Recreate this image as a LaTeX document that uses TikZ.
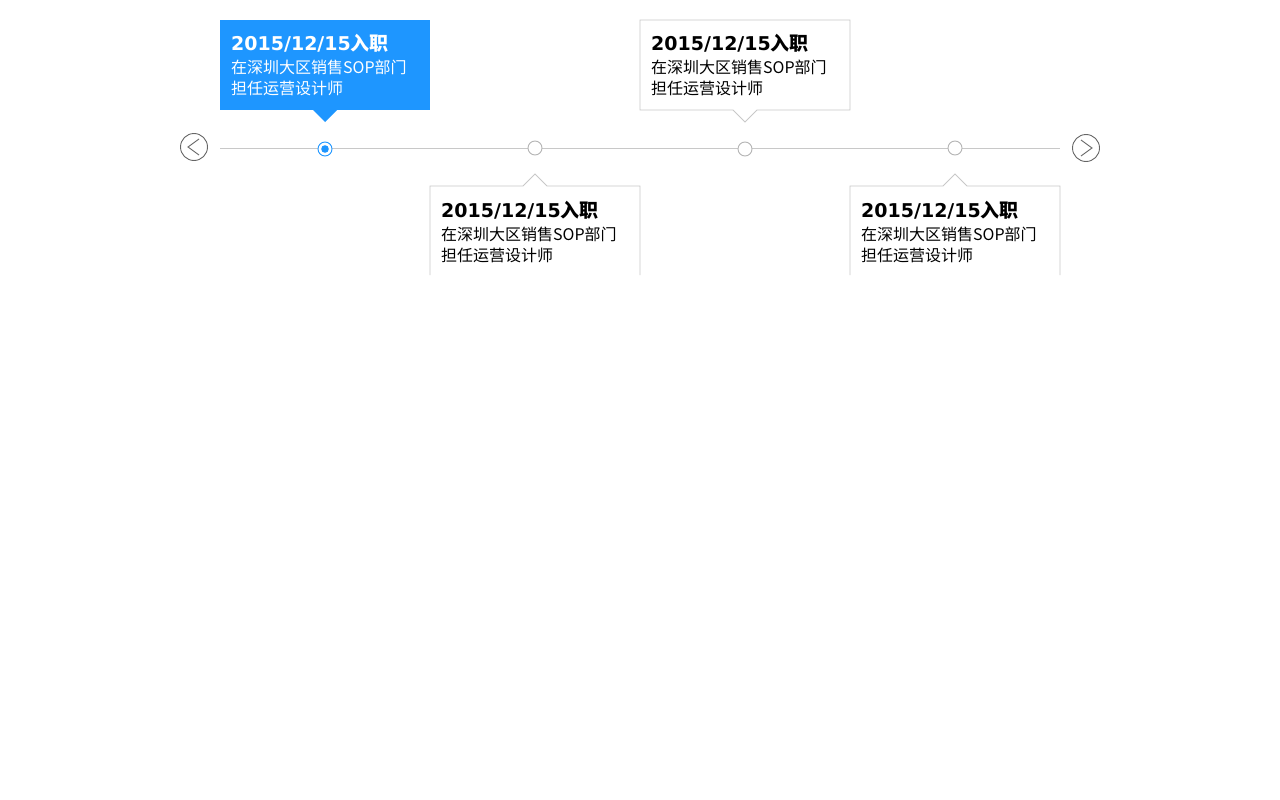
\documentclass[tikz,border=0pt]{standalone}
\usepackage{fontspec}
\setmainfont{DejaVu Sans}
\newfontfamily\cjk{Noto Sans CJK SC}
\begin{document}
\begin{tikzpicture}[x=1pt,y=-1pt]
\definecolor{tlblue}{HTML}{1E96FF}
\definecolor{tlgray}{HTML}{C8C8C8}
\definecolor{dotgray}{HTML}{B4B4B4}
\definecolor{navgray}{HTML}{666666}
\tikzset{
  titletext/.style={anchor=base west, inner sep=0pt, font=\fontsize{19}{19}\selectfont\bfseries},
  bodytext/.style={anchor=base west, inner sep=0pt, font=\cjk\fontsize{16}{16}\selectfont},
  tldot/.style={circle, draw=#1, fill=white, minimum size=14pt, inner sep=0pt, line width=0.9pt},
  navbtn/.style={circle, draw=navgray, fill=white, minimum size=27pt, inner sep=0pt, line width=0.9pt},
  chev/.style={draw=navgray, line width=0.9pt},
}
\fill[white] (0,0) rectangle (1280,800);
\useasboundingbox (0,0) rectangle (1280,800);

% timeline
\coordinate (lineL) at (220,148);
\coordinate (lineR) at (1060,148);
\draw[tlgray, line width=0.9pt] (lineL) -- (lineR);

% nav buttons
\node[navbtn] (prev) at (194,147) {};
\node[navbtn] (next) at (1086,148) {};
\draw[chev] ([shift={(5,-8)}]prev.center) -- ([shift={(-6,0)}]prev.center) -- ([shift={(5,8)}]prev.center);
\draw[chev] ([shift={(-5,-8)}]next.center) -- ([shift={(6,0)}]next.center) -- ([shift={(-5,8)}]next.center);

% dots
\node[tldot=tlblue] (d1) at (325,149) {};
\fill[tlblue] (d1.center) circle (3.8pt);
\node[tldot=dotgray] (d2) at (535,148) {};
\node[tldot=dotgray] (d3) at (745,149) {};
\node[tldot=dotgray] (d4) at (955,148) {};

% card 1 (active, blue)
\fill[tlblue] (220,20) rectangle (430,110);
\fill[tlblue] (313,110) -- (325,122) -- (337,110) -- cycle;
\node[titletext, text=white] (t1) at (231,51) {2015/12/15{\cjk\bfseries 入职}};
\node[bodytext, text=white] (a1) at (231,74) {在深圳大区销售SOP部门};
\node[bodytext, text=white] (b1) at (231,95) {担任运营设计师};

% card 3 (top, outlined)
\path[draw=tlgray, fill=white, line width=0.9pt] (640,20) -- (850,20) -- (850,110) -- (757,110) -- (745,122) -- (733,110) -- (640,110) -- cycle;
\node[titletext] (t3) at (651,51) {2015/12/15{\cjk\bfseries 入职}};
\node[bodytext] (a3) at (651,74) {在深圳大区销售SOP部门};
\node[bodytext] (b3) at (651,95) {担任运营设计师};

% card 2 (bottom, clipped)
\fill[white] (430,186) -- (523,186) -- (535,174) -- (547,186) -- (640,186) -- (640,275) -- (430,275) -- cycle;
\draw[tlgray, line width=0.9pt] (430,275) -- (430,186) -- (523,186) -- (535,174) -- (547,186) -- (640,186) -- (640,275);
\node[titletext] (t2) at (441,217) {2015/12/15{\cjk\bfseries 入职}};
\node[bodytext] (a2) at (441,240) {在深圳大区销售SOP部门};
\node[bodytext] (b2) at (441,261) {担任运营设计师};

% card 4 (bottom, clipped)
\fill[white] (850,186) -- (943,186) -- (955,174) -- (967,186) -- (1060,186) -- (1060,275) -- (850,275) -- cycle;
\draw[tlgray, line width=0.9pt] (850,275) -- (850,186) -- (943,186) -- (955,174) -- (967,186) -- (1060,186) -- (1060,275);
\node[titletext] (t4) at (861,217) {2015/12/15{\cjk\bfseries 入职}};
\node[bodytext] (a4) at (861,240) {在深圳大区销售SOP部门};
\node[bodytext] (b4) at (861,261) {担任运营设计师};
\end{tikzpicture}
\end{document}
